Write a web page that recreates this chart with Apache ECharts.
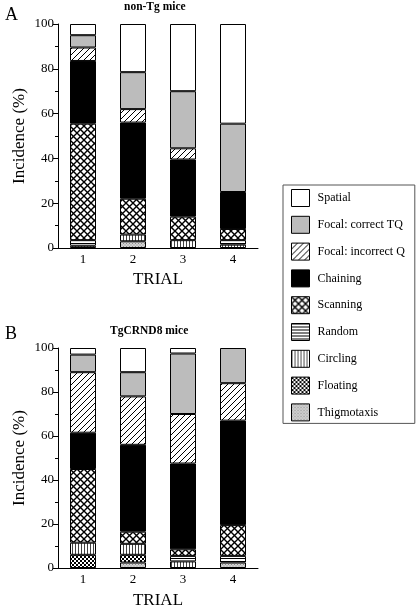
<!DOCTYPE html>
<html><head><meta charset="utf-8">
<script src="https://cdn.jsdelivr.net/npm/echarts@6/dist/echarts.min.js"></script>
<style>html,body{margin:0;padding:0;background:#fff}#c{width:416px;height:610px}</style>
</head><body><div id="c"></div>
<script>
const trials = ['1', '2', '3', '4'];
const strategies = ['Thigmotaxis', 'Floating', 'Circling', 'Random', 'Scanning', 'Chaining', 'Focal: incorrect Q', 'Focal: correct TQ', 'Spatial'];

// Panel A: non-Tg mice (values per trial 1-4, %)
const nonTgThigmotaxis = [0, 3, 0, 0];
const nonTgFloating    = [0, 0, 0, 0];
const nonTgCircling    = [1, 3, 3.5, 1.5];
const nonTgRandom      = [2.5, 0, 0, 2];
const nonTgScanning    = [52, 16, 10.5, 5];
const nonTgChaining    = [28, 34, 25.5, 16.5];
const nonTgIncorrectQ  = [6, 6, 5, 0];
const nonTgCorrectTQ   = [5.5, 16.5, 25.5, 30.5];
const nonTgSpatial     = [5, 21.5, 30, 44.5];

// Panel B: TgCRND8 mice
const tgThigmotaxis = [0, 2.5, 0, 2.5];
const tgFloating    = [6, 3.5, 0, 0];
const tgCircling    = [5.5, 5, 3, 0];
const tgRandom      = [0, 0, 2.5, 3];
const tgScanning    = [33.5, 5.5, 3, 14];
const tgChaining    = [16.5, 39.5, 39, 47.5];
const tgIncorrectQ  = [27.5, 22, 22.5, 17];
const tgCorrectTQ   = [8, 11, 27.5, 16];
const tgSpatial     = [3, 11, 2.5, 0];

const yTicks = [0, 20, 40, 60, 80, 100];

const nonTgData = [nonTgThigmotaxis, nonTgFloating, nonTgCircling, nonTgRandom, nonTgScanning, nonTgChaining, nonTgIncorrectQ, nonTgCorrectTQ, nonTgSpatial];
const tgData = [tgThigmotaxis, tgFloating, tgCircling, tgRandom, tgScanning, tgChaining, tgIncorrectQ, tgCorrectTQ, tgSpatial];

function mk(w, h, bg, draw) {
  const c = document.createElement('canvas');
  c.width = w; c.height = h;
  const g = c.getContext('2d');
  g.fillStyle = bg; g.fillRect(0, 0, w, h);
  draw(g);
  return c;
}
const pat = {
  thig: mk(3, 3, '#d4d4d4', g => { g.fillStyle = '#8a8a8a'; g.fillRect(0, 0, 1, 1); g.fillRect(1.5, 1.5, 1, 1); }),
  float: mk(4, 4, '#fff', g => { g.fillStyle = '#000'; g.fillRect(0, 0, 2, 2); g.fillRect(2, 2, 2, 2); }),
  circ: mk(3, 4, '#fff', g => { g.fillStyle = '#444'; g.fillRect(0, 0, 1, 4); }),
  rand: mk(4, 3, '#fff', g => { g.fillStyle = '#000'; g.fillRect(0, 0, 4, 1); }),
  scan: mk(7, 7, '#fff', g => {
    g.strokeStyle = '#000'; g.lineWidth = 1.4;
    g.beginPath();
    g.moveTo(-1, -1); g.lineTo(8, 8);
    g.moveTo(-1, 8); g.lineTo(8, -1);
    g.stroke();
  }),
  hatch: mk(6, 6, '#fff', g => {
    g.strokeStyle = '#000'; g.lineWidth = 1;
    g.beginPath();
    g.moveTo(-1, 7); g.lineTo(7, -1);
    g.moveTo(-1, 1); g.lineTo(1, -1);
    g.moveTo(5, 7); g.lineTo(7, 5);
    g.stroke();
  })
};
const fills = [
  { image: pat.thig, repeat: 'repeat' },
  { image: pat.float, repeat: 'repeat' },
  { image: pat.circ, repeat: 'repeat' },
  { image: pat.rand, repeat: 'repeat' },
  { image: pat.scan, repeat: 'repeat' },
  '#000',
  { image: pat.hatch, repeat: 'repeat' },
  '#bcbcbc',
  '#fff'
];

const serif = 'Liberation Serif';
function axes(gi, nameGapX) {
  return {
    x: {
      type: 'category', gridIndex: gi, data: trials,
      axisLine: { lineStyle: { color: '#000', width: 1 } },
      axisTick: { alignWithLabel: true, length: 4, lineStyle: { color: '#000' } },
      axisLabel: { color: '#000', fontFamily: serif, fontSize: 13, margin: 5 },
      name: 'TRIAL', nameLocation: 'middle', nameGap: nameGapX,
      nameTextStyle: { color: '#000', fontFamily: serif, fontSize: 17 }
    },
    y: {
      type: 'value', gridIndex: gi, min: 0, max: 100, interval: 20,
      axisLine: { show: true, lineStyle: { color: '#000', width: 1 } },
      axisTick: { show: true, length: 5, lineStyle: { color: '#000' } },
      minorTick: { show: true, splitNumber: 2, length: 3, lineStyle: { color: '#000' } },
      splitLine: { show: false },
      axisLabel: { color: '#000', fontFamily: serif, fontSize: 13, margin: 4,
        formatter: v => yTicks.indexOf(v) >= 0 ? String(v) : '' },
      name: 'Incidence (%)', nameLocation: 'middle', nameGap: 30,
      nameTextStyle: { color: '#000', fontFamily: serif, fontSize: 17 }
    }
  };
}
const a0 = axes(0, 23), a1 = axes(1, 24);

const series = [];
[nonTgData, tgData].forEach((set, gi) => {
  set.forEach((vals, i) => {
    series.push({
      type: 'bar', name: strategies[i], stack: 'g' + gi,
      xAxisIndex: gi, yAxisIndex: gi, barWidth: 26,
      data: vals.map(v => v === 0 ? null : v),
      itemStyle: { color: fills[i], borderColor: '#000', borderWidth: 1 },
      emphasis: { disabled: true }, animation: false
    });
  });
});

const chart = echarts.init(document.getElementById('c'), null, { renderer: 'canvas' });
chart.setOption({
  animation: false,
  backgroundColor: '#fff',
  grid: [
    { left: 58, top: 24, width: 200, height: 224 },
    { left: 58, top: 348, width: 200, height: 224 }
  ],
  xAxis: [a0.x, a1.x],
  yAxis: [a0.y, a1.y],
  legend: {
    orient: 'vertical', left: 283, top: 185,
    data: strategies.slice().reverse(),
    icon: 'rect', itemWidth: 18, itemHeight: 17, itemGap: 8.8,
    padding: [4, 10, 2, 8],
    borderColor: '#555', borderWidth: 1,
    itemStyle: { borderColor: '#000', borderWidth: 1 },
    textStyle: { color: '#000', fontFamily: serif, fontSize: 12, padding: [0, 0, 0, 3] },
    selectedMode: false
  },
  graphic: [
    { type: 'text', left: 5, top: 6, style: { text: 'A', font: '18px "Liberation Serif"', fill: '#000' } },
    { type: 'text', left: 5, top: 325, style: { text: 'B', font: '18px "Liberation Serif"', fill: '#000' } },
    { type: 'text', left: 124, top: 1, style: { text: 'non-Tg mice', font: 'bold 11.5px "Liberation Serif"', fill: '#000' } },
    { type: 'text', left: 110, top: 325, style: { text: 'TgCRND8 mice', font: 'bold 11.5px "Liberation Serif"', fill: '#000' } }
  ],
  series
});
</script></body></html>
